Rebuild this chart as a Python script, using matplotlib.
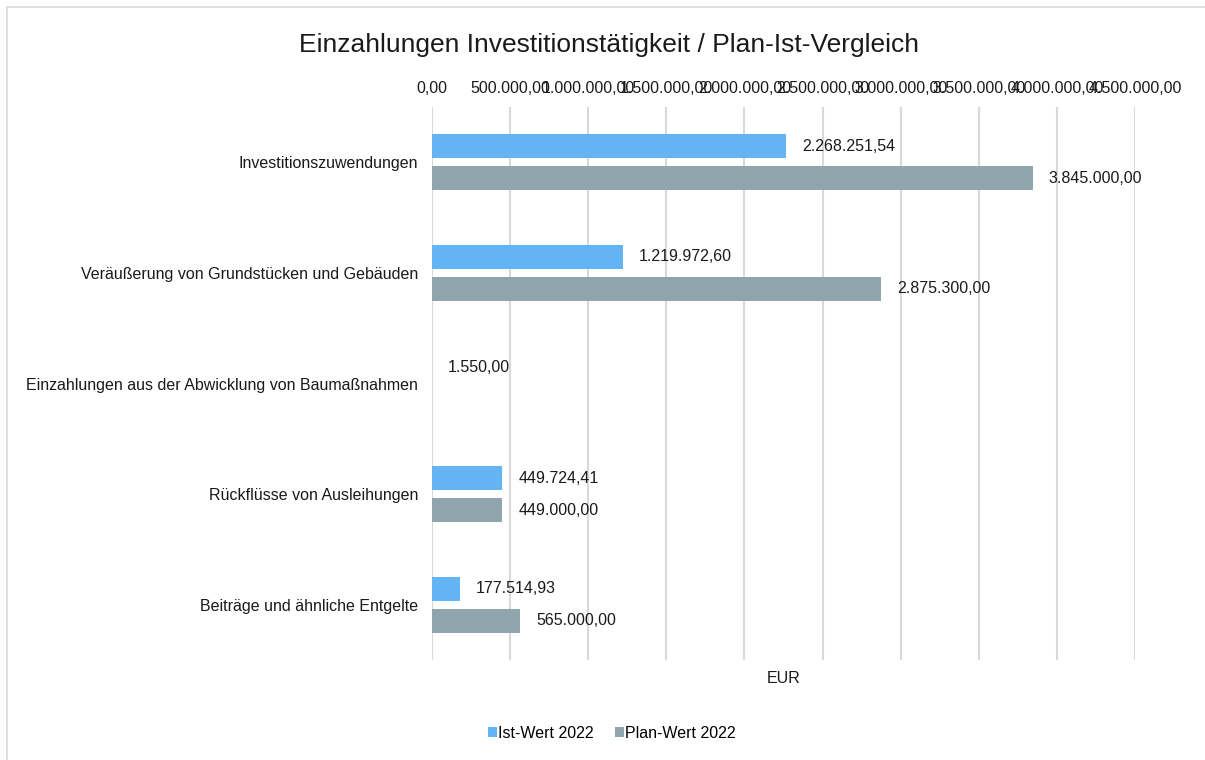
import matplotlib
matplotlib.use("Agg")
import matplotlib.pyplot as plt
import numpy as np
from matplotlib.patches import Rectangle

plt.rcParams['font.family'] = ['Liberation Sans', 'DejaVu Sans']

categories = ["Investitionszuwendungen",
              "Veräußerung von Grundstücken und Gebäuden",
              "Einzahlungen aus der Abwicklung von Baumaßnahmen",
              "Rückflüsse von Ausleihungen",
              "Beiträge und ähnliche Entgelte"]
ist_2022 = [2268251.54, 1219972.60, 1550.00, 449724.41, 177514.93]
plan_2022 = [3845000.00, 2875300.00, np.nan, 449000.00, 565000.00]
ticks = [0, 500000, 1000000, 1500000, 2000000, 2500000, 3000000, 3500000, 4000000, 4500000]
series_names = ["Ist-Wert 2022", "Plan-Wert 2022"]

def fmt(v):
    s = f"{v:,.2f}"
    return s.replace(",", "X").replace(".", ",").replace("X", ".")

W, H = 1205, 760
fs = 11.5
tc = '#1a1a1a'
fig = plt.figure(figsize=(W / 100, H / 100), dpi=100)
ax = fig.add_axes([432 / W, 1 - 660 / H, (1135 - 432) / W, (660 - 107) / H])

c_ist = "#63B4F5"
c_plan = "#90A4AE"
n = len(categories)
y = np.arange(n)
off = 0.145
h = 0.218
ax.barh(y - off, ist_2022, height=h, color=c_ist, label=series_names[0], zorder=3)
ax.barh(y + off, np.nan_to_num(plan_2022), height=h, color=c_plan, label=series_names[1], zorder=3)

pad = 16 * 4500000 / 703
for i in range(n):
    v = ist_2022[i]
    if not np.isnan(v):
        ax.text(v + pad, y[i] - off, fmt(v), va='center', ha='left', fontsize=fs, color=tc)
    v = plan_2022[i]
    if not np.isnan(v):
        ax.text(v + pad, y[i] + off, fmt(v), va='center', ha='left', fontsize=fs, color=tc)

ax.set_ylim(n - 0.5, -0.5)
ax.set_xlim(0, 4500000)
ax.set_yticks(y)
ax.set_yticklabels(categories, fontsize=fs, color=tc)
ax.set_xticks(ticks)
ax.set_xticklabels([fmt(t) for t in ticks], fontsize=fs, color=tc)
ax.xaxis.tick_top()
ax.tick_params(axis='both', length=0)
ax.tick_params(axis='x', pad=8)
ax.tick_params(axis='y', pad=10)
for s in ax.spines.values():
    s.set_visible(False)
ax.grid(axis='x', color='#d9d9d9', linewidth=1.5, zorder=0)
ax.set_axisbelow(True)

ax.set_xlabel("EUR", fontsize=fs, color=tc, labelpad=8)
ax.xaxis.set_label_position('bottom')

fig.text(609 / W, 1 - 45 / H, "Einzahlungen Investitionstätigkeit / Plan-Ist-Vergleich",
         ha='center', va='center', fontsize=19, color=tc)

leg = fig.legend(loc='center', bbox_to_anchor=(612 / W, 1 - 733 / H), ncol=2, frameon=False,
                 fontsize=fs, handlelength=0.55, handleheight=0.55, handletextpad=0.1,
                 columnspacing=1.3)

fig.patches.append(Rectangle((7 / W, -0.1), 1.2, 1 - 7 / H + 0.1, transform=fig.transFigure,
                             fill=False, edgecolor='#d9d9d9', linewidth=1.2))

fig.savefig("out.png", dpi=100, facecolor='white')
